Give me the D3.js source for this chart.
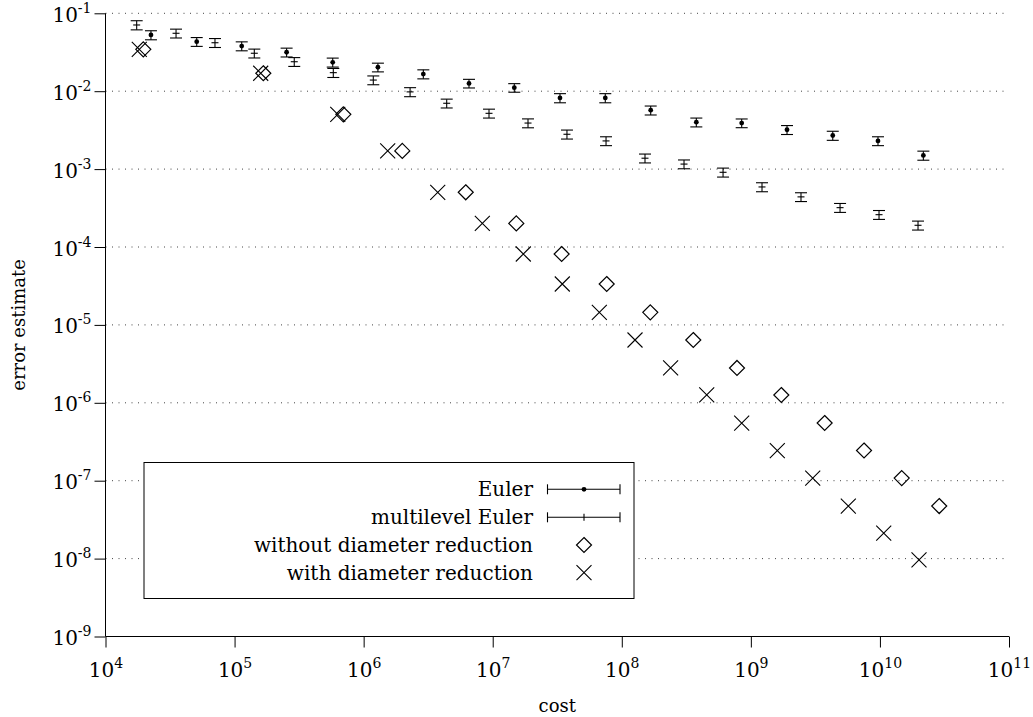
<!DOCTYPE html>
<html>
<head>
<meta charset="utf-8">
<script src="https://cdn.jsdelivr.net/npm/d3@7"></script>
<style>
  body { margin: 0; background: #fff; }
  text { font-family: "DejaVu Serif", serif; fill: #000; }
</style>
</head>
<body>
<div id="chart"></div>
<script>
// Euler (plain estimator, with dot)
var eulerCost = [2.25e4, 5.09e4, 1.136e5, 2.53e5, 5.76e5, 1.29e6, 2.90e6, 6.55e6, 1.47e7, 3.32e7,
                 7.45e7, 1.675e8, 3.78e8, 8.49e8, 1.906e9, 4.31e9, 9.66e9, 2.17e10];
var eulerErr = [0.0527, 0.0432, 0.0380, 0.0316, 0.0235, 0.0203, 0.0166, 0.0126, 0.0111, 0.0082,
                0.0082, 0.0057, 0.0040, 0.0039, 0.0032, 0.0027, 0.0023, 0.0015];
var eulerBar = [0.0070, 0.0056, 0.0050, 0.0041, 0.0031, 0.0026, 0.0022, 0.0016, 0.0014, 0.0011,
                0.0011, 0.00075, 0.00052, 0.00050, 0.00042, 0.00036, 0.00030, 0.00020];

// multilevel Euler
var mlCost = [1.744e4, 3.52e4, 7.05e4, 1.422e5, 2.90e5, 5.82e5, 1.188e6, 2.29e6, 4.40e6, 9.36e6,
              1.877e7, 3.76e7, 7.55e7, 1.513e8, 3.035e8, 6.09e8, 1.22e9, 2.446e9, 4.91e9, 9.84e9, 1.973e10];
var mlErr = [0.0708, 0.0554, 0.0419, 0.0307, 0.0239, 0.0173, 0.0139, 0.0098, 0.0070, 0.0052,
             0.0039, 0.0028, 0.0023, 0.00138, 0.00116, 0.00091, 0.00059, 0.00044, 0.00032, 0.00026, 0.00019];
var mlBar = [0.0095, 0.0072, 0.0055, 0.0040, 0.0031, 0.0023, 0.0018, 0.0013, 0.00091, 0.00068,
             0.00051, 0.00037, 0.00030, 0.00018, 0.00015, 0.00012, 0.000078, 0.000057, 0.000042, 0.000034, 0.000025];

// without diameter reduction (diamonds)
var noRedCost = [1.963e4, 1.67e5, 6.96e5, 1.993e6, 6.18e6, 1.523e7, 3.42e7, 7.64e7, 1.663e8, 3.58e8,
                 7.81e8, 1.722e9, 3.73e9, 7.53e9, 1.475e10, 2.88e10];
var noRedErr = [0.0345, 0.0170, 0.00505, 0.00171, 5.04e-4, 2.01e-4, 8.13e-5, 3.35e-5, 1.45e-5, 6.4e-6,
                2.8e-6, 1.26e-6, 5.5e-7, 2.44e-7, 1.08e-7, 4.73e-8];

// with diameter reduction (crosses)
var redCost = [1.827e4, 1.594e5, 6.30e5, 1.536e6, 3.75e6, 8.31e6, 1.726e7, 3.46e7, 6.70e7, 1.266e8,
               2.39e8, 4.55e8, 8.49e8, 1.603e9, 3.015e9, 5.69e9, 1.07e10, 2.008e10];
var redErr = [0.0345, 0.0170, 0.00505, 0.00171, 5.04e-4, 2.01e-4, 8.13e-5, 3.35e-5, 1.45e-5, 6.4e-6,
              2.8e-6, 1.26e-6, 5.5e-7, 2.44e-7, 1.08e-7, 4.73e-8, 2.13e-8, 9.6e-9];

var xTicks = [1e4, 1e5, 1e6, 1e7, 1e8, 1e9, 1e10, 1e11];
var yTicks = [1e-9, 1e-8, 1e-7, 1e-6, 1e-5, 1e-4, 1e-3, 1e-2, 1e-1];
var legendLabels = ["Euler", "multilevel Euler", "without diameter reduction", "with diameter reduction"];

var width = 1033, height = 717;
var plotLeft = 105.5, plotRight = 1009, plotTop = 13.3, plotBottom = 636.5;
var fontSize = 20;

var svg = d3.select("#chart").append("svg")
    .attr("width", width)
    .attr("height", height);

var x = d3.scaleLog().domain([1e4, 1e11]).range([plotLeft, plotRight]);
var y = d3.scaleLog().domain([1e-9, 1e-1]).range([plotBottom, plotTop]);

// dotted grid lines
svg.append("g").selectAll("line")
    .data(yTicks.filter(function (d) { return d > 1e-9; }))
    .enter().append("line")
    .attr("x1", plotLeft).attr("x2", plotRight - 4)
    .attr("y1", function (d) { return y(d); })
    .attr("y2", function (d) { return y(d); })
    .attr("stroke", "#444")
    .attr("stroke-width", 1)
    .attr("stroke-dasharray", "1,5.5");

function powLabel(sel) {
    sel.each(function (d) {
        var t = d3.select(this);
        var e = Math.round(Math.log10(d));
        t.text(null);
        t.append("tspan").text("10");
        t.append("tspan").attr("dy", -9).attr("font-size", 14).text(e);
    });
}

// x axis
var gx = svg.append("g")
    .attr("transform", "translate(0," + plotBottom + ")")
    .call(d3.axisBottom(x).tickValues(xTicks).tickSize(11).tickFormat(function () { return ""; }));
gx.select(".domain").attr("stroke", "#000").attr("d", "M" + plotLeft + ",0H" + plotRight);
gx.selectAll(".tick line").attr("stroke", "#000");
gx.selectAll(".tick text")
    .attr("font-size", fontSize)
    .attr("y", 40).attr("dy", 0)
    .call(powLabel);

// y axis
var gy = svg.append("g")
    .attr("transform", "translate(" + plotLeft + ",0)")
    .call(d3.axisLeft(y).tickValues(yTicks).tickSize(11).tickPadding(3).tickFormat(function () { return ""; }));
gy.select(".domain").attr("stroke", "#000").attr("d", "M0," + plotTop + "V" + plotBottom);
gy.selectAll(".tick line").attr("stroke", "#000");
gy.selectAll(".tick text")
    .attr("font-size", fontSize)
    .attr("dy", 0).attr("y", 8)
    .call(powLabel);

// axis titles
svg.append("text")
    .attr("x", (plotLeft + plotRight) / 2).attr("y", 712)
    .attr("text-anchor", "middle").attr("font-size", 18)
    .text("cost");
svg.append("text")
    .attr("transform", "translate(25," + ((plotTop + plotBottom) / 2) + ") rotate(-90)")
    .attr("text-anchor", "middle").attr("font-size", 18)
    .text("error estimate");

var capW = 6;

function errorBars(cost, val, bar, cls) {
    var data = cost.map(function (c, i) { return { c: c, v: val[i], e: bar[i] }; });
    var g = svg.append("g").attr("class", cls)
        .attr("stroke", "#000").attr("stroke-width", 1.1).attr("fill", "none");
    var p = g.selectAll("g").data(data).enter().append("g");
    p.append("line")
        .attr("x1", function (d) { return x(d.c); }).attr("x2", function (d) { return x(d.c); })
        .attr("y1", function (d) { return y(d.v + d.e); }).attr("y2", function (d) { return y(d.v - d.e); });
    p.append("line")
        .attr("x1", function (d) { return x(d.c) - capW; }).attr("x2", function (d) { return x(d.c) + capW; })
        .attr("y1", function (d) { return y(d.v + d.e); }).attr("y2", function (d) { return y(d.v + d.e); });
    p.append("line")
        .attr("x1", function (d) { return x(d.c) - capW; }).attr("x2", function (d) { return x(d.c) + capW; })
        .attr("y1", function (d) { return y(d.v - d.e); }).attr("y2", function (d) { return y(d.v - d.e); });
    return p;
}

var eb = errorBars(eulerCost, eulerErr, eulerBar, "euler");
eb.append("circle")
    .attr("cx", function (d) { return x(d.c); })
    .attr("cy", function (d) { return y(d.v); })
    .attr("r", 2.4).attr("fill", "#000").attr("stroke", "none");

var mb = errorBars(mlCost, mlErr, mlBar, "ml");
mb.append("line")
    .attr("x1", function (d) { return x(d.c) - 3.5; }).attr("x2", function (d) { return x(d.c) + 3.5; })
    .attr("y1", function (d) { return y(d.v); }).attr("y2", function (d) { return y(d.v); });

var dia = 7.5;
function diamondPath(cx, cy) {
    return "M" + cx + "," + (cy - dia) + "L" + (cx + dia) + "," + cy + "L" + cx + "," + (cy + dia) + "L" + (cx - dia) + "," + cy + "Z";
}
function crossPath(cx, cy) {
    var s = 7.5;
    return "M" + (cx - s) + "," + (cy - s) + "L" + (cx + s) + "," + (cy + s) +
        "M" + (cx - s) + "," + (cy + s) + "L" + (cx + s) + "," + (cy - s);
}

svg.append("g").selectAll("path")
    .data(noRedCost.map(function (c, i) { return [c, noRedErr[i]]; }))
    .enter().append("path")
    .attr("d", function (d) { return diamondPath(x(d[0]), y(d[1])); })
    .attr("fill", "none").attr("stroke", "#000").attr("stroke-width", 1.2);

svg.append("g").selectAll("path")
    .data(redCost.map(function (c, i) { return [c, redErr[i]]; }))
    .enter().append("path")
    .attr("d", function (d) { return crossPath(x(d[0]), y(d[1])); })
    .attr("fill", "none").attr("stroke", "#000").attr("stroke-width", 1.1);

// legend
var lg = svg.append("g");
lg.append("rect")
    .attr("x", 144).attr("y", 462.5).attr("width", 490).attr("height", 136)
    .attr("fill", "#fff").attr("stroke", "#000").attr("stroke-width", 1);

var rowY = [489.3, 517.3, 545, 572.7];
var sx1 = 547.5, sx2 = 620, sxc = 584;
lg.selectAll("text").data(legendLabels).enter().append("text")
    .attr("x", 533).attr("y", function (d, i) { return rowY[i] + 7; })
    .attr("text-anchor", "end").attr("font-size", fontSize)
    .text(function (d) { return d; });

[0, 1].forEach(function (i) {
    var r = lg.append("g").attr("stroke", "#000").attr("stroke-width", 1.1);
    r.append("line").attr("x1", sx1).attr("x2", sx2).attr("y1", rowY[i]).attr("y2", rowY[i]);
    r.append("line").attr("x1", sx1).attr("x2", sx1).attr("y1", rowY[i] - 5).attr("y2", rowY[i] + 5);
    r.append("line").attr("x1", sx2).attr("x2", sx2).attr("y1", rowY[i] - 5).attr("y2", rowY[i] + 5);
    if (i === 0) {
        r.append("circle").attr("cx", sxc).attr("cy", rowY[i]).attr("r", 2.4).attr("fill", "#000").attr("stroke", "none");
    } else {
        r.append("line").attr("x1", sxc).attr("x2", sxc).attr("y1", rowY[i] - 3.5).attr("y2", rowY[i] + 3.5);
    }
});
lg.append("path").attr("d", diamondPath(sxc, rowY[2]))
    .attr("fill", "none").attr("stroke", "#000").attr("stroke-width", 1.2);
lg.append("path").attr("d", crossPath(sxc, rowY[3]))
    .attr("fill", "none").attr("stroke", "#000").attr("stroke-width", 1.1);
</script>
</body>
</html>
